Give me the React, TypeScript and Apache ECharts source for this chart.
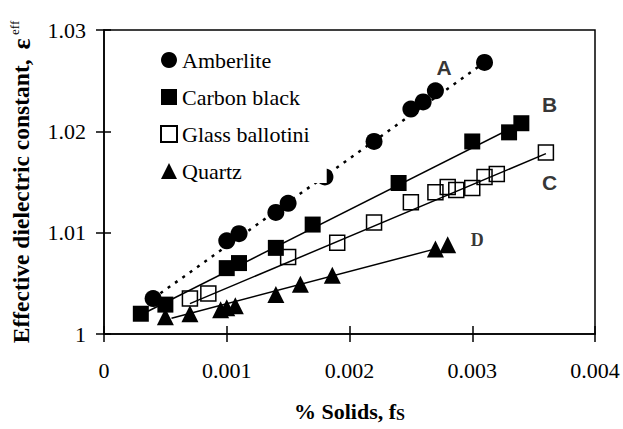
import React, { useEffect, useRef } from "react";
import * as echarts from "echarts";

const xTicks = [0, 0.001, 0.002, 0.003, 0.004];
const yTicks = [1, 1.01, 1.02, 1.03];

const amberlite: [number, number][] = [
  [0.0004, 1.0035], [0.001, 1.0092], [0.0011, 1.0099], [0.0014, 1.012], [0.0015, 1.0129],
  [0.0018, 1.0155], [0.0022, 1.019], [0.0025, 1.0222], [0.0026, 1.0229], [0.0027, 1.024], [0.0031, 1.0268],
];
const carbonBlack: [number, number][] = [
  [0.0003, 1.002], [0.0005, 1.0029], [0.001, 1.0065], [0.0011, 1.007], [0.0014, 1.0085],
  [0.0017, 1.0108], [0.0024, 1.0149], [0.003, 1.019], [0.0033, 1.0199], [0.0034, 1.0208],
];
const glassBallotini: [number, number][] = [
  [0.0007, 1.0035], [0.00085, 1.004], [0.0015, 1.0076], [0.0019, 1.009], [0.0022, 1.011],
  [0.0025, 1.013], [0.0027, 1.014], [0.0028, 1.0145], [0.00287, 1.0142], [0.003, 1.0144],
  [0.0031, 1.0155], [0.0032, 1.0158], [0.0036, 1.0179],
];
const quartz: [number, number][] = [
  [0.0005, 1.0017], [0.0007, 1.002], [0.00095, 1.0024], [0.001, 1.0026], [0.00107, 1.0028],
  [0.0014, 1.0039], [0.0016, 1.0049], [0.00186, 1.0058], [0.0027, 1.0084], [0.0028, 1.0088],
];

// fitted trend lines (endpoints)
const fitA: [number, number][] = [[0.0004, 1.0035], [0.0031, 1.0268]];
const fitB: [number, number][] = [[0.00035, 1.0022], [0.0034, 1.0208]];
const fitC: [number, number][] = [[0.0007, 1.003], [0.0036, 1.0178]];
const fitD: [number, number][] = [[0.00055, 1.00155], [0.0027, 1.0084]];

const lineLabels = ["A", "B", "C", "D"];
const lineLabelPos: [number, number][] = [[0.00277, 1.0263], [0.00363, 1.0226], [0.00363, 1.015], [0.00304, 1.0093]];

const seriesNames = ["Amberlite", "Carbon black", "Glass ballotini", "Quartz"];

const SERIF = "'Liberation Serif', 'Times New Roman', serif";
const SANS = "'Liberation Sans', Arial, sans-serif";

export default function App() {
  const ref = useRef<HTMLDivElement>(null);
  useEffect(() => {
    if (!ref.current) return;
    const chart = echarts.init(ref.current, null, { renderer: "svg" });
    const axisLine = { lineStyle: { color: "#000", width: 1.5 } };
    const fitLine = (name: string, data: [number, number][], type: any) => ({
      name,
      type: "line",
      data,
      showSymbol: false,
      silent: true,
      z: 3,
      lineStyle: { color: "#000", width: type === "solid" ? 1.5 : 2.5, type },
    });
    chart.setOption({
      animation: false,
      backgroundColor: "#fff",
      grid: { left: 104, right: 28, top: 30, bottom: 95, show: true, borderColor: "#000", borderWidth: 1.5 },
      legend: {
        data: seriesNames,
        orient: "vertical",
        left: 150,
        top: 38,
        padding: [11, 17, 1, 10],
        backgroundColor: "#fff",
        itemWidth: 16,
        itemHeight: 16,
        itemGap: 15,
        itemTextGap: 5,
        z: 10,
        textStyle: { fontFamily: SERIF, fontSize: 22, color: "#000", lineHeight: 22 },
      },
      xAxis: [
        {
          type: "value", min: 0, max: 0.004, interval: 0.001,
          axisLine, splitLine: { show: false },
          axisTick: { inside: false, length: 8, lineStyle: { color: "#000", width: 1.5 } },
          axisLabel: {
            color: "#000", fontFamily: SERIF, fontSize: 22, margin: 25,
            formatter: (v: number) => String(+v.toFixed(3)),
          },
          name: "% Solids, f{s|S}",
          nameLocation: "middle",
          nameGap: 66,
          nameTextStyle: {
            color: "#000", fontFamily: SERIF, fontSize: 22, fontWeight: "bold",
            rich: { s: { fontFamily: SERIF, fontSize: 16, fontWeight: "bold", color: "#000", verticalAlign: "bottom" } },
          },
        },
        {
          type: "value", min: 0, max: 0.004, interval: 0.001, position: "bottom",
          axisLine: { show: false }, splitLine: { show: false }, axisLabel: { show: false },
          axisTick: { inside: true, length: 8, lineStyle: { color: "#000", width: 1.5 } },
        },
      ],
      yAxis: [
        {
          type: "value", min: 1, max: 1.03, interval: 0.01,
          axisLine, splitLine: { show: false },
          axisTick: { inside: false, length: 8, lineStyle: { color: "#000", width: 1.5 } },
          axisLabel: {
            color: "#000", fontFamily: SERIF, fontSize: 22, margin: 18,
            formatter: (v: number) => String(+v.toFixed(2)),
          },
          name: "{t|Effective dielectric constant,}   {e|ε} {s|eff}",
          nameLocation: "middle",
          nameRotate: 90,
          nameGap: 70,
          nameTextStyle: {
            color: "#000",
            rich: {
              t: { fontFamily: SERIF, fontSize: 23.5, fontWeight: "bold", color: "#000" },
              e: { fontFamily: SERIF, fontSize: 26, fontWeight: "bold", color: "#000" },
              s: { fontFamily: SERIF, fontSize: 13, color: "#000", verticalAlign: "top" },
            },
          },
        },
        {
          type: "value", min: 1, max: 1.03, interval: 0.01, position: "left",
          axisLine: { show: false }, splitLine: { show: false }, axisLabel: { show: false },
          axisTick: { inside: true, length: 7, lineStyle: { color: "#000", width: 1.5 } },
        },
      ],
      series: [
        fitLine("fitA", fitA, [3, 6]),
        fitLine("fitB", fitB, "solid"),
        fitLine("fitC", fitC, "solid"),
        fitLine("fitD", fitD, "solid"),
        { name: seriesNames[0], type: "scatter", data: amberlite, symbol: "circle", symbolSize: 17, itemStyle: { color: "#000", opacity: 1 }, z: 2 },
        { name: seriesNames[1], type: "scatter", data: carbonBlack, symbol: "rect", symbolSize: 16, itemStyle: { color: "#000", opacity: 1 }, z: 2 },
        {
          name: seriesNames[2], type: "scatter", data: glassBallotini, symbol: "rect", symbolSize: 15, z: 2,
          itemStyle: { color: "rgba(255,255,255,0)", borderColor: "#000", borderWidth: 1.5, opacity: 1 },
        },
        { name: seriesNames[3], type: "scatter", data: quartz, symbol: "triangle", symbolSize: 17, itemStyle: { color: "#000", opacity: 1 }, z: 2 },
        {
          name: "labels", type: "scatter", symbolSize: 0, silent: true, z: 4,
          data: lineLabelPos.map((p, i) => ({
            value: p,
            label: {
              show: true, position: "inside", formatter: lineLabels[i], color: "#000", fontWeight: "bold",
              fontFamily: i === 3 ? SERIF : SANS, fontSize: i === 3 ? 18 : 21,
            },
          })),
        },
      ],
    });
    return () => chart.dispose();
  }, []);
  return <div ref={ref} style={{ width: 623, height: 429, position: "absolute", left: 0, top: 0 }} />;
}
